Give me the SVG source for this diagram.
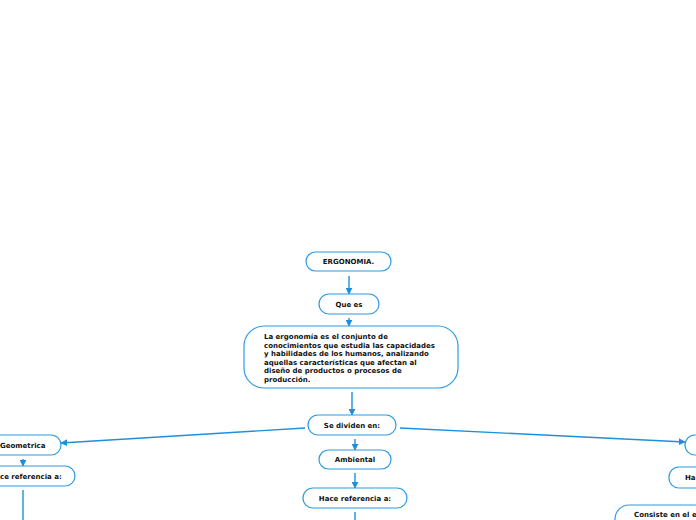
<svg xmlns="http://www.w3.org/2000/svg" width="696" height="520" viewBox="0 0 696 520">
<style>
.n{fill:#fff;stroke:#2d9ce3;stroke-width:1.2}
.t{font-family:"DejaVu Sans",Verdana,sans-serif;font-weight:bold;font-size:7px;fill:#111}
.c{fill:none;stroke:#1f8fdb;stroke-width:1.4}
</style>
<defs>
<marker id="a" viewBox="0 0 10 10" refX="9" refY="5" markerWidth="7" markerHeight="7" orient="auto" markerUnits="userSpaceOnUse">
<path d="M0,0L10,5L0,10z" fill="#1f8fdb"/>
</marker>
</defs>
<rect width="696" height="520" fill="#fff"/>
<g id="connectors">
<path class="c" d="M349,276L349,294" marker-end="url(#a)"/>
<path class="c" d="M349,318L349,326" marker-end="url(#a)"/>
<path class="c" d="M352,392L352,415" marker-end="url(#a)"/>
<path class="c" d="M355,439L355,450" marker-end="url(#a)"/>
<path class="c" d="M355,473L355,488" marker-end="url(#a)"/>
<path class="c" d="M355,512L355,520"/>
<path class="c" d="M305,428L61,443" marker-end="url(#a)"/>
<path class="c" d="M400,428L685,442" marker-end="url(#a)"/>
<path class="c" d="M23,459L23,466" marker-end="url(#a)"/>
<path class="c" d="M23,490L23,520"/>
</g>
<g id="n-ergonomia"><rect class="n" x="306" y="252" width="85" height="19" rx="9.5"/><text class="t" x="348.5" y="264" text-anchor="middle">ERGONOMIA.</text></g>
<g id="n-quees"><rect class="n" x="319" y="294" width="60" height="20" rx="10"/><text class="t" x="349" y="306.5" text-anchor="middle">Que es</text></g>
<g id="n-def"><rect class="n" x="244" y="326" width="214" height="62" rx="20"/>
<text class="t" x="264" y="339">La ergonomía es el conjunto de</text>
<text class="t" x="264" y="347.6">conocimientos que estudia las capacidades</text>
<text class="t" x="264" y="356.2">y habilidades de los humanos, analizando</text>
<text class="t" x="264" y="364.8">aquellas características que afectan al</text>
<text class="t" x="264" y="373.4">diseño de productos o procesos de</text>
<text class="t" x="264" y="382">producción.</text>
</g>
<g id="n-sedividen"><rect class="n" x="308" y="415" width="88" height="20" rx="10"/><text class="t" x="352" y="427.5" text-anchor="middle">Se dividen en:</text></g>
<g id="n-ambiental"><rect class="n" x="319" y="450" width="72" height="19" rx="9.5"/><text class="t" x="355" y="462" text-anchor="middle">Ambiental</text></g>
<g id="n-hace-c"><rect class="n" x="303" y="488" width="104" height="20" rx="10"/><text class="t" x="355" y="500.5" text-anchor="middle">Hace referencia a:</text></g>
<g id="n-geometrica"><rect class="n" x="-12" y="435" width="73" height="20" rx="10"/><text class="t" x="0" y="447.5">Geometrica</text></g>
<g id="n-hace-l"><rect class="n" x="-40" y="466" width="115" height="20" rx="10"/><text class="t" x="0" y="478.5">ce referencia a:</text></g>
<g id="n-right"><rect class="n" x="685" y="435" width="60" height="20" rx="10"/></g>
<g id="n-hace-r"><rect class="n" x="669" y="467" width="100" height="21" rx="10"/><text class="t" x="685" y="480">Ha</text></g>
<g id="n-consiste"><rect class="n" x="615" y="505" width="140" height="40" rx="14"/><text class="t" x="634" y="516.5">Consiste en el e</text></g>
</svg>
